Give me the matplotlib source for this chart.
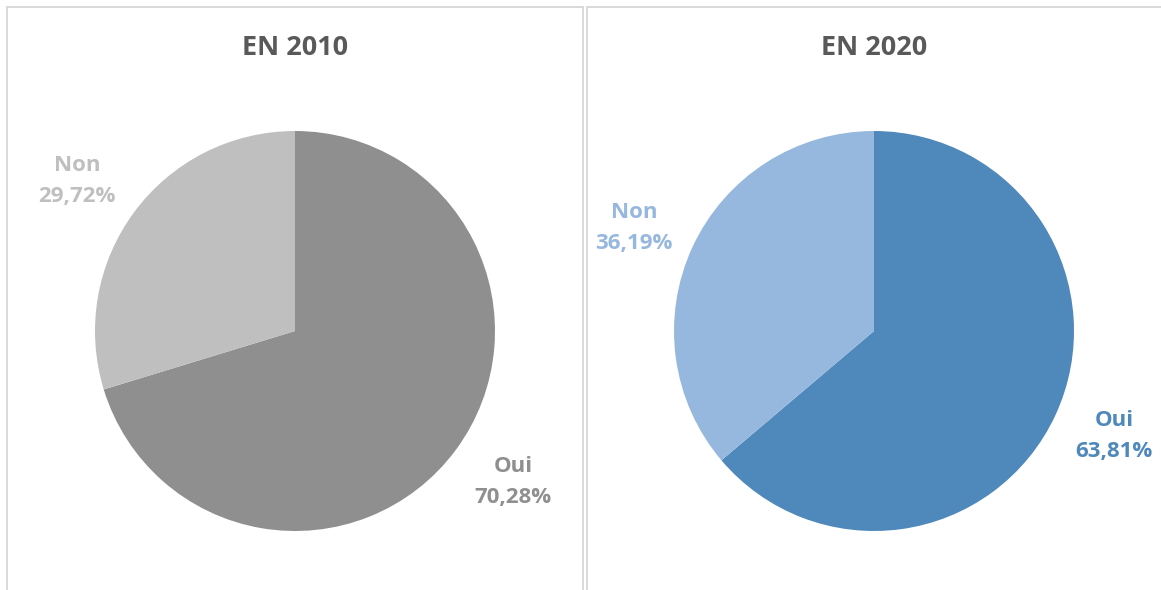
import matplotlib.pyplot as plt
from matplotlib.lines import Line2D

# data
answers = ["Oui", "Non"]
share_2010 = [70.28, 29.72]
share_2020 = [63.81, 36.19]
titles = ["EN 2010", "EN 2020"]

colors_2010 = ["#8f8f8f", "#bfbfbf"]
colors_2020 = ["#4f88bb", "#97b8de"]

plt.rcParams["font.family"] = ["Open Sans", "DejaVu Sans"]

W, H = 1161, 590
fig = plt.figure(figsize=(W / 100, H / 100), dpi=100)
fig.patch.set_facecolor("white")


def px(x, y):
    # pixel (from top-left) -> figure fraction
    return x / W, 1 - y / H


# panel borders
border = "#d9d9d9"
for (x0, x1, right) in [(7, 583, True), (587, 1170, False)]:
    fx, fy = zip(px(x0, H + 5), px(x0, 7))
    fig.add_artist(Line2D(fx, fy, color=border, lw=1.4))
    fx, fy = zip(px(x0, 7), px(x1, 7))
    fig.add_artist(Line2D(fx, fy, color=border, lw=1.4))
    if right:
        fx, fy = zip(px(x1, 7), px(x1, H + 5))
        fig.add_artist(Line2D(fx, fy, color=border, lw=1.4))


def pie_panel(cx, cy, values, colors, title, label_pos):
    r = 200
    half = 250
    ax = fig.add_axes([(cx - half) / W, (H - cy - half) / H, 2 * half / W, 2 * half / H])
    ax.set_xlim(-half / r, half / r)
    ax.set_ylim(-half / r, half / r)
    ax.axis("off")
    labels = [f"{a}\n{v:.2f}%".replace(".", ",") for a, v in zip(answers, values)]
    wedges, texts = ax.pie(
        values,
        colors=colors,
        startangle=90,
        counterclock=False,
        radius=1,
        labels=labels,
        wedgeprops=dict(linewidth=0),
    )
    for t, c, pos in zip(texts, colors, label_pos):
        t.set_position(pos)
        t.set_ha("center")
        t.set_va("center")
        t.set_multialignment("center")
        t.set_color(c)
        t.set_fontsize(16)
        t.set_fontweight("bold")
        t.set_linespacing(1.62)
    fx, fy = px(cx, 48)
    fig.text(fx, fy, title, ha="center", va="center", fontsize=19.5,
             fontweight="bold", color="#595959")


pie_panel(295, 331, share_2010, colors_2010, titles[0],
          [(1.09, -0.755), (-1.09, 0.75)])
pie_panel(874, 331, share_2020, colors_2020, titles[1],
          [(1.2, -0.525), (-1.2, 0.515)])

fig.savefig("out.png", dpi=100)
